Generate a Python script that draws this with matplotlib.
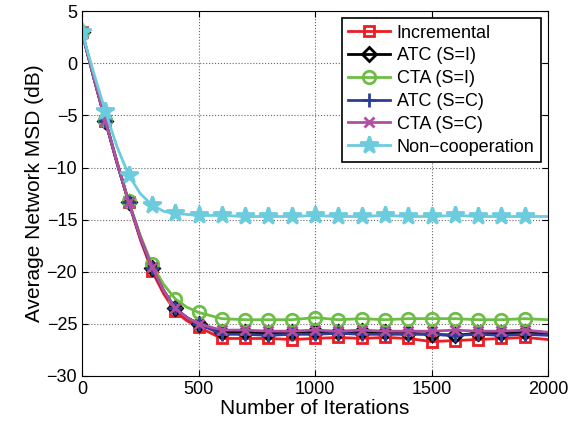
import numpy as np
import matplotlib
matplotlib.use('Agg')
import matplotlib.pyplot as plt

plt.rcParams['font.family'] = ['Liberation Sans', 'DejaVu Sans']

# 迭代次数（下降段加密，之后每100次一个点）
iterations = [0, 50, 100, 150, 200, 250, 300, 350, 400, 450, 500, 600, 700, 800, 900, 1000,
              1100, 1200, 1300, 1400, 1500, 1600, 1700, 1800, 1900, 2000]

msd_incremental = [3.0, -1.4, -5.5, -9.6, -13.3, -16.9, -19.9, -22.1, -23.8, -24.7, -25.3, -26.4, -26.4,
                   -26.4, -26.5, -26.4, -26.3, -26.4, -26.3, -26.4, -26.7, -26.6, -26.5, -26.4, -26.3, -26.5]
msd_atc_si = [3.0, -1.3, -5.5, -9.5, -13.3, -16.7, -19.6, -21.8, -23.5, -24.4, -25.0, -25.8, -25.8,
              -25.9, -25.8, -25.7, -25.8, -25.7, -25.8, -25.9, -26.0, -26.1, -25.9, -25.9, -25.8, -25.9]
msd_cta_si = [3.0, -1.3, -5.4, -9.4, -13.2, -16.5, -19.3, -21.2, -22.6, -23.4, -23.9, -24.5, -24.6,
              -24.6, -24.6, -24.4, -24.6, -24.5, -24.6, -24.5, -24.5, -24.5, -24.6, -24.6, -24.5, -24.6]
msd_atc_sc = [3.0, -1.3, -5.5, -9.5, -13.3, -16.7, -19.6, -21.8, -23.5, -24.4, -25.0, -26.0, -26.0,
              -26.1, -26.0, -26.0, -25.9, -26.0, -26.0, -26.0, -26.0, -26.1, -26.0, -26.1, -26.0, -26.1]
msd_cta_sc = [3.0, -1.3, -5.5, -9.5, -13.3, -16.7, -19.5, -21.8, -23.5, -24.4, -25.0, -25.6, -25.6,
              -25.7, -25.7, -25.6, -25.7, -25.6, -25.7, -25.7, -25.7, -25.6, -25.7, -25.7, -25.6, -25.8]
msd_noncoop = [3.0, -0.9, -4.6, -8.0, -10.7, -12.5, -13.6, -14.2, -14.4, -14.5, -14.6, -14.6, -14.7,
               -14.7, -14.7, -14.6, -14.7, -14.7, -14.6, -14.7, -14.7, -14.6, -14.7, -14.7, -14.7, -14.7]

labels = ['Incremental', 'ATC (S=I)', 'CTA (S=I)', 'ATC (S=C)', 'CTA (S=C)', 'Non\u2212cooperation']

fig = plt.figure(figsize=(5.79, 4.28), dpi=100)
ax = fig.add_axes([0.1416, 0.1215, 0.805, 0.8525])

# 线型设置
styles = [
    (msd_incremental, '#ED1C24', 's', 7, 'none'),
    (msd_atc_si, 'black', 'D', 7, 'none'),
    (msd_cta_si, '#6DBE45', 'o', 9, 'none'),
    (msd_atc_sc, '#2E3D98', '+', 10, None),
    (msd_cta_sc, '#B04FA0', 'x', 7, None),
    (msd_noncoop, '#6CCBDD', '*', 13, None),
]

x = np.array(iterations)
# 标记只画在100的整数倍处（不含2000）
mark_idx = [i for i, it in enumerate(iterations) if it % 100 == 0 and it < 2000]
for (y, c, m, ms, mfc), lab in zip(styles, labels):
    y = np.array(y)
    kw = dict(color=c, lw=2, marker=m, ms=ms, mew=2, label=lab, markevery=mark_idx)
    if mfc == 'none':
        kw['mfc'] = 'none'
    ax.plot(x, y, **kw)

ax.set_xlim(0, 2000)
ax.set_ylim(-30, 5)
ax.set_xticks([0, 500, 1000, 1500, 2000])
ax.set_yticks([5, 0, -5, -10, -15, -20, -25, -30])
ax.set_yticklabels(['5', '0', '\u22125', '\u221210', '\u221215', '\u221220', '\u221225', '\u221230'])
ax.tick_params(direction='in', labelsize=13, top=True, right=True, length=4)
ax.grid(True, linestyle=':', color='#666666', linewidth=0.8)

ax.set_xlabel('Number of Iterations', fontsize=15, labelpad=1)
ax.set_ylabel('Average Network MSD (dB)', fontsize=15, labelpad=2)

leg = ax.legend(loc='upper right', fontsize=13, frameon=True, fancybox=False,
                edgecolor='black', framealpha=1, handlelength=2.3,
                borderpad=0.35, labelspacing=0.32, handletextpad=0.4,
                borderaxespad=0.4)
leg.get_frame().set_linewidth(1.2)

plt.savefig('out.png', dpi=100)
